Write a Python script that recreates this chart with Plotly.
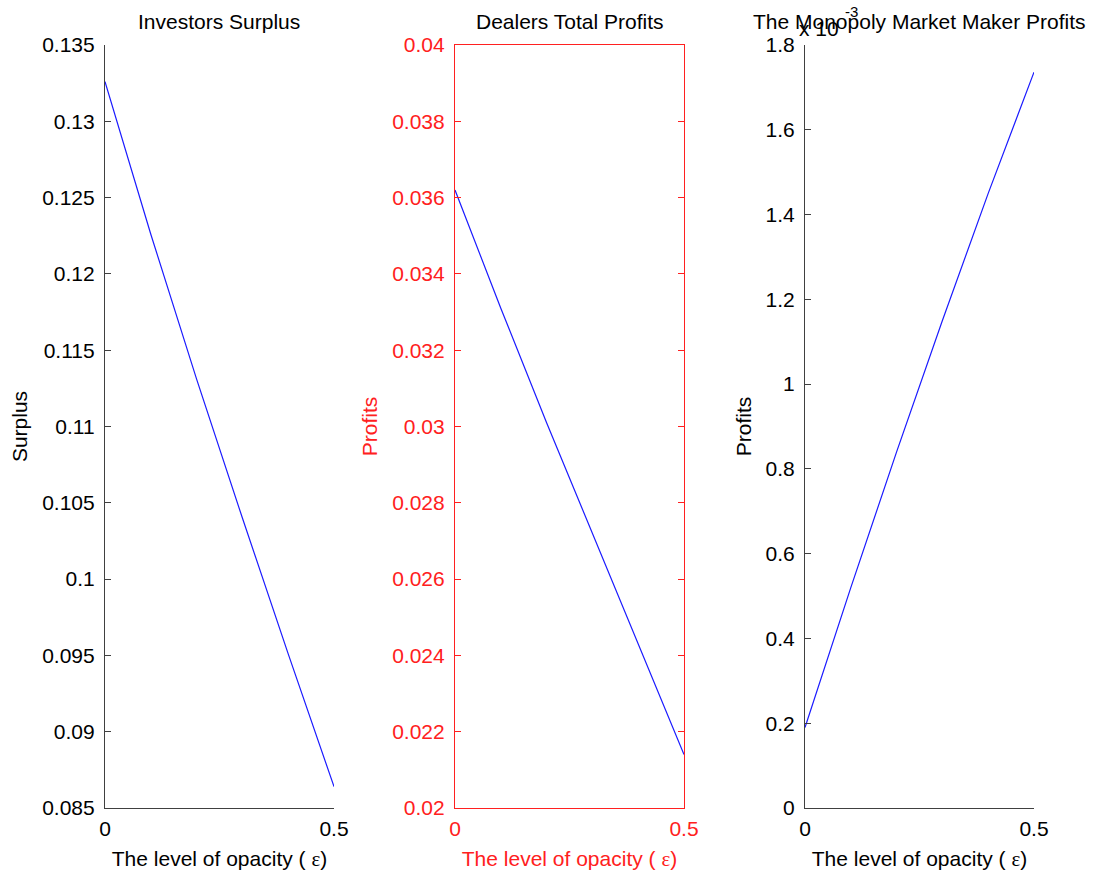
import plotly.graph_objects as go

# Level of opacity (epsilon)
epsilon = [0.0, 0.1, 0.2, 0.3, 0.4, 0.5]

# Investors surplus
investors_surplus = [0.1326, 0.1226, 0.1131, 0.1040, 0.0951, 0.0864]

# Dealers total profits
dealers_profits = [0.0362, 0.0331, 0.0301, 0.0272, 0.0243, 0.0214]

# Monopoly market maker profits, in units of 1e-3
mm_profits_e3 = [0.19, 0.52, 0.84, 1.15, 1.45, 1.736]

titles = ["Investors Surplus", "Dealers Total Profits", "The Monopoly Market Maker Profits"]
ytitles = ["Surplus", "Profits", "Profits"]
xtitle = "The level of opacity ( <span style='font-family:\"Liberation Serif\",serif'>ε</span>)"

W, H = 1097, 873
xdomains = [[105 / W, 334 / W], [455 / W, 684 / W], [805 / W, 1034 / W]]
ydomain = [1 - 808 / H, 1 - 45 / H]

FONT = "Liberation Sans, Arial, Helvetica, sans-serif"
FS = 21
BLUE = "#1a1aff"
RED = "#ff2020"
GREY = "#404040"

fig = go.Figure()
series = [investors_surplus, dealers_profits, mm_profits_e3]
for i, ys in enumerate(series):
    sfx = "" if i == 0 else str(i + 1)
    fig.add_trace(go.Scatter(
        x=epsilon, y=ys, mode="lines",
        line=dict(color=BLUE, width=1.2),
        xaxis="x" + sfx, yaxis="y" + sfx, showlegend=False,
    ))

yranges = [[0.085, 0.135], [0.02, 0.04], [0.0, 1.8]]
ydticks = [0.005, 0.002, 0.2]
axcolors = [GREY, RED, GREY]
mirrors = [False, "ticks", False]

layout = dict(
    width=W, height=H,
    margin=dict(l=0, r=0, t=0, b=0, autoexpand=False),
    paper_bgcolor="white", plot_bgcolor="white",
    font=dict(family=FONT, size=FS, color="black"),
    showlegend=False,
)
for i in range(3):
    sfx = "" if i == 0 else str(i + 1)
    c = axcolors[i]
    txtc = RED if i == 1 else "black"
    layout["xaxis" + sfx] = dict(
        domain=xdomains[i], range=[0, 0.5], anchor="y" + sfx,
        tickvals=[0, 0.5], ticktext=["0", "0.5"],
        ticks="inside", ticklen=6, tickcolor=c, tickwidth=1.2,
        showline=True, linecolor=c, linewidth=1.2, mirror=mirrors[i],
        showgrid=False, zeroline=False, automargin=False,
        tickfont=dict(color=txtc, size=FS), ticklabelstandoff=2,
        title=dict(text=xtitle, font=dict(color=txtc, size=FS), standoff=12),
    )
    layout["yaxis" + sfx] = dict(
        domain=ydomain, range=yranges[i], anchor="x" + sfx,
        dtick=ydticks[i], tick0=yranges[i][0],
        ticks="inside", ticklen=6, tickcolor=c, tickwidth=1.2,
        showline=True, linecolor=c, linewidth=1.2, mirror=mirrors[i],
        showgrid=False, zeroline=False, automargin=False,
        tickfont=dict(color=txtc, size=FS), ticklabelstandoff=5,
        title=dict(text=ytitles[i], font=dict(color=txtc, size=FS), standoff=8),
    )

annotations = []
for i, t in enumerate(titles):
    annotations.append(dict(
        text=t, x=(xdomains[i][0] + xdomains[i][1]) / 2, y=1 - 21 / H,
        xref="paper", yref="paper", xanchor="center", yanchor="middle",
        showarrow=False, font=dict(size=FS, color="black"),
    ))
# Exponent multiplier for the third panel's y axis
annotations.append(dict(
    text="x 10", x=797 / W, y=1 - 29 / H,
    xref="paper", yref="paper", xanchor="left", yanchor="middle",
    showarrow=False, font=dict(size=FS, color="black"),
))
annotations.append(dict(
    text="-3", x=843 / W, y=1 - 12 / H,
    xref="paper", yref="paper", xanchor="left", yanchor="middle",
    showarrow=False, font=dict(size=15, color="black"),
))
layout["annotations"] = annotations

fig.update_layout(**layout)
fig.write_html("out.html")
